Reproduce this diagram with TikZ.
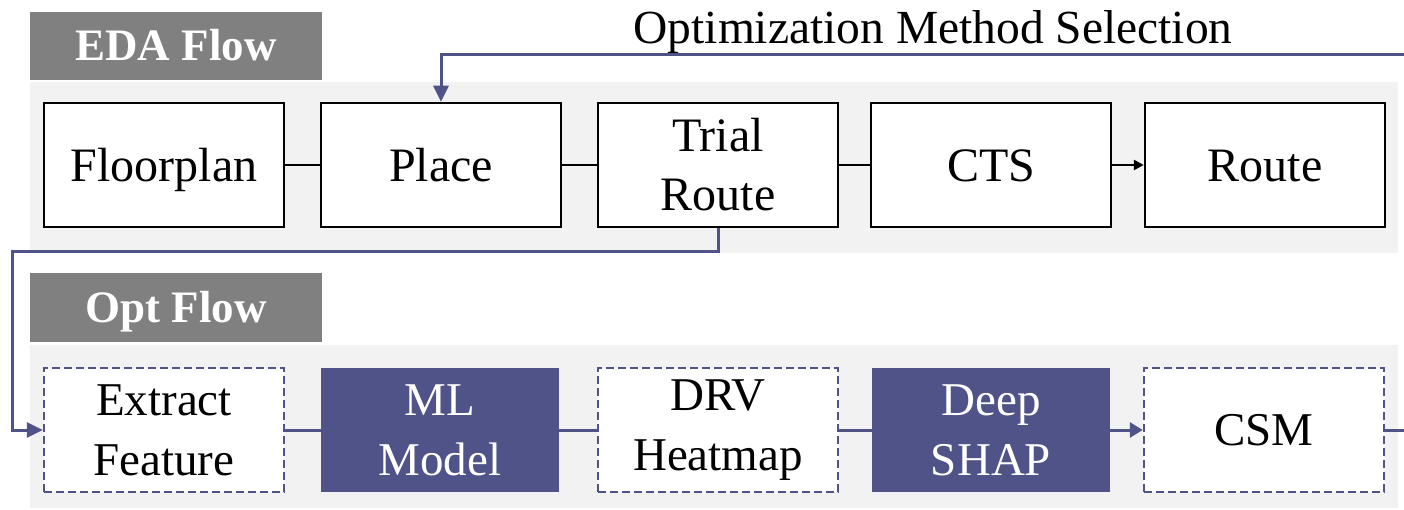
\documentclass[tikz,border=0pt]{standalone}
\usepackage{fontspec}
\setmainfont{Liberation Serif}
\usetikzlibrary{arrows.meta}
\definecolor{navy}{RGB}{79,83,135}
\definecolor{bandgray}{RGB}{242,242,242}
\definecolor{labgray}{RGB}{128,128,128}
\tikzset{
  edabox/.style={draw=black, line width=2.5pt, fill=white, minimum width=240pt, minimum height=124pt, inner sep=0pt, align=center, font=\fontsize{48}{59}\selectfont},
  single/.style={text height=33pt, text depth=0pt},
  dashbox/.style={draw=navy, line width=2.5pt, dash pattern=on 8pt off 4pt, fill=white, minimum width=240pt, minimum height=124pt, inner sep=0pt, align=center, font=\fontsize{47}{60}\selectfont},
  fillbox/.style={draw=none, fill=navy, text=white, minimum width=238pt, minimum height=124pt, inner sep=0pt, align=center, font=\fontsize{47}{60}\selectfont},
  flowlabel/.style={fill=labgray, text=white, minimum width=292pt, minimum height=68pt, inner sep=0pt, text height=30pt, text depth=0pt, font=\fontsize{45}{50}\selectfont\bfseries},
  blk/.style={draw=black, line width=2.5pt},
  conn/.style={draw=navy, line width=3pt},
}
\begin{document}
\begin{tikzpicture}[x=1pt,y=-1pt]
\useasboundingbox (0,0) rectangle (1404,510);
% bands
\fill[bandgray] (30,82) rectangle (1398,253);
\fill[bandgray] (30,345) rectangle (1398,508);
% labels
\node[flowlabel] (edalab) at (176,46) {EDA Flow};
\node[flowlabel] (optlab) at (176,307.5) {Opt Flow};
\node[font=\fontsize{47.5}{50}\selectfont, anchor=base] (title) at (933,44) {Optimization Method Selection};
% EDA flow boxes
\node[edabox, single] (floor) at (164,165) {Floorplan};
\node[edabox, single] (place) at (441,165) {Place};
\node[edabox] (trial) at (718,165) {Trial\\Route};
\node[edabox, single] (cts) at (991,165) {CTS};
\node[edabox, single] (route) at (1265,165) {Route};
\draw[blk] (floor) -- (place);
\draw[blk] (place) -- (trial);
\draw[blk] (trial) -- (cts);
\draw[blk, -{Triangle[length=10pt,width=10pt]}] (cts) -- (route);
% Opt flow boxes
\node[dashbox] (extract) at (164,430) {Extract\\Feature};
\node[fillbox] (ml) at (440,430) {ML\\Model};
\node[dashbox] (drv) at (718,430) {DRV\\Heatmap};
\node[fillbox] (deep) at (991,430) {Deep\\SHAP};
\node[dashbox, text height=31pt, text depth=0pt] (csm) at (1264,430) {CSM};
\draw[conn] (extract) -- (ml);
\draw[conn] (ml) -- (drv);
\draw[conn] (drv) -- (deep);
\draw[conn, -{Triangle[length=13pt,width=15pt]}] (deep) -- (csm);
\coordinate (csmout) at (1404,430);
\draw[conn] (csm) -- (csmout);
% feedback lines
\coordinate (osel) at (1404,55);
\draw[conn, -{Triangle[length=16pt,width=15pt]}] (osel) -| (place.north);
\coordinate (lcorner) at (12,252);
\draw[conn, -{Triangle[length=16pt,width=15pt]}] (trial.south) |- (lcorner) |- (extract.west);
\end{tikzpicture}
\end{document}
